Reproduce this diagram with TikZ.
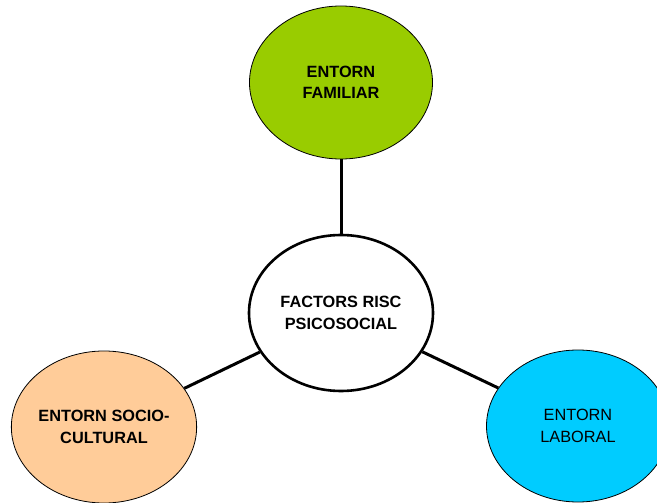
\documentclass[tikz,border=0pt]{standalone}
\usepackage{fontspec}
\setmainfont{Liberation Sans}
\usetikzlibrary{shapes.geometric}
\definecolor{famgreen}{HTML}{99CC00}
\definecolor{socpeach}{HTML}{FFCC99}
\definecolor{labcyan}{HTML}{00CCFF}
\tikzset{
  blob/.style={ellipse, draw=black, line width=0.8pt, inner sep=0pt,
    minimum width=183pt, minimum height=152pt, align=center,
    font=\fontsize{16.3}{21.5}\selectfont},
  hub/.style={blob, fill=white, line width=2.6pt, minimum width=184pt, minimum height=156pt},
  link/.style={line width=3pt}
}
\begin{document}
\begin{tikzpicture}[x=1pt,y=-1pt]
  \useasboundingbox (0,0) rectangle (657,503);
  \clip (0,0) rectangle (657,503);
  \node[hub] (c) at (341,313) {\textbf{FACTORS RISC}\\\textbf{PSICOSOCIAL}};
  \node[blob, fill=famgreen, minimum height=153pt] (fam) at (341,82.5) {\textbf{ENTORN}\\\textbf{FAMILIAR}};
  \node[blob, fill=socpeach] (soc) at (104,427) {\textbf{ENTORN SOCIO-}\\\textbf{CULTURAL}};
  \node[blob, fill=labcyan] (lab) at (578,426) {ENTORN\\LABORAL};
  \draw[link] (c) -- (fam);
  \draw[link] (c) -- (soc);
  \draw[link] (c) -- (lab);
\end{tikzpicture}
\end{document}
